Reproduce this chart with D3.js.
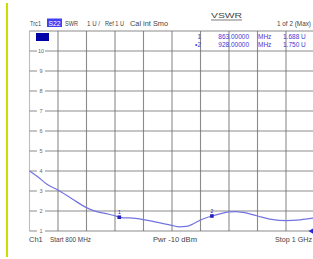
<!DOCTYPE html>
<html>
<head>
<meta charset="utf-8">
<script src="https://cdn.jsdelivr.net/npm/d3@7"></script>
<style>
  html, body { margin: 0; padding: 0; background: #ffffff; }
  svg { display: block; font-family: "Liberation Sans", Arial, sans-serif; }
</style>
</head>
<body>
<script>
// trace data: frequency (MHz) vs SWR
const freqs = [800, 806, 812, 820, 830, 840, 845, 850, 855, 860, 863, 866, 870, 876, 880, 890, 900, 905, 910, 915, 920, 928, 935, 940, 945, 950, 960, 970, 980, 990, 1000];
const swr   = [4.00, 3.70, 3.35, 3.05, 2.60, 2.17, 2.02, 1.92, 1.85, 1.76, 1.69, 1.66, 1.66, 1.62, 1.57, 1.43, 1.28, 1.21, 1.23, 1.36, 1.55, 1.75, 1.88, 1.96, 1.97, 1.93, 1.75, 1.58, 1.52, 1.56, 1.65];
const yTicks = [1, 2, 3, 4, 5, 6, 7, 8, 9, 10];
const markerIds = ["1", "2"];
const markerFreqs = [863, 928];
const markerVals = [1.688, 1.750];

const width = 313, height = 259;
const svg = d3.select("body").append("svg")
  .attr("width", width)
  .attr("height", height);

const x = d3.scaleLinear().domain([800, 1000]).range([29.5, 314.5]);
const y = d3.scaleLinear().domain([1, 11]).range([231, 31]);

// yellow side bar
svg.append("rect")
  .attr("x", 6).attr("y", 3)
  .attr("width", 2).attr("height", 254)
  .attr("fill", "#d0dc00");

// grid
const grid = svg.append("g").attr("stroke", "#6e6e6e").attr("stroke-width", 1.1);
d3.range(0, 11).forEach(i => {
  const gx = x(800 + i * 20);
  grid.append("line")
    .attr("x1", gx).attr("x2", gx)
    .attr("y1", y(11)).attr("y2", y(1))
    .attr("stroke-opacity", i === 0 ? 0.45 : 0.8);
});
d3.range(1, 12).forEach(v => {
  grid.append("line")
    .attr("x1", x(800)).attr("x2", x(1000))
    .attr("y1", y(v)).attr("y2", y(v))
    .attr("stroke-opacity", 0.8);
});

// y tick labels sitting on the grid lines
yTicks.forEach(v => {
  svg.append("rect")
    .attr("x", 37).attr("y", y(v) - 3)
    .attr("width", 8).attr("height", 6)
    .attr("fill", "#ffffff");
  svg.append("text")
    .attr("x", 41).attr("y", y(v) + 2)
    .attr("text-anchor", "middle")
    .attr("font-size", "5.5px")
    .attr("fill", "#666")
    .text(v);
});

// text helper, optional fitted width
function label(txt, tx, ty, opts = {}) {
  const t = svg.append("text")
    .attr("x", tx).attr("y", ty)
    .attr("font-size", opts.size || "7px")
    .attr("fill", opts.color || "#444")
    .attr("text-anchor", opts.anchor || "start")
    .text(txt);
  if (opts.len) t.attr("textLength", opts.len).attr("lengthAdjust", "spacingAndGlyphs");
  return t;
}

// header
label("Trc1", 30, 25.5, { len: 11 });
svg.append("rect")
  .attr("x", 47).attr("y", 18.5)
  .attr("width", 15).attr("height", 8.5)
  .attr("fill", "#4040f0");
label("S22", 48.5, 25.5, { color: "#ffffff", len: 12 });
label("SWR", 65, 25.5, { len: 13 });
label("1 U /", 87, 25.5, { len: 13 });
label("Ref 1 U", 105, 25.5, { len: 19 });
label("Cal int Smo", 130, 25.5, { len: 38 });
label("VSWR", 211, 18, { size: "8px", len: 31 });
svg.append("line")
  .attr("x1", 211).attr("x2", 242)
  .attr("y1", 20).attr("y2", 20)
  .attr("stroke", "#444").attr("stroke-width", 0.7);
label("1 of 2 (Max)", 277, 25.5, { len: 34 });

// marker info box
svg.append("rect")
  .attr("x", 36).attr("y", 33)
  .attr("width", 13).attr("height", 8)
  .attr("fill", "#0000aa");

const blue = "#3a3ad8";
markerIds.forEach((id, i) => {
  const ry = 39 + i * 7.5;
  label((i === 1 ? "\u2022" : "") + id, 201, ry, { size: "6.5px", color: blue, anchor: "end" });
  label(markerFreqs[i].toFixed(5), 249, ry, { size: "6.5px", color: blue, anchor: "end" });
  label("MHz", 258, ry, { size: "6.5px", color: blue });
  label(markerVals[i].toFixed(3) + "  U", 283, ry, { size: "6.5px", color: blue });
});

// trace
const line = d3.line()
  .x((d, i) => x(freqs[i]))
  .y(d => y(d))
  .curve(d3.curveMonotoneX);

svg.append("path")
  .datum(swr)
  .attr("fill", "none")
  .attr("stroke", "#7474e0")
  .attr("stroke-width", 1.2)
  .attr("d", line);

// markers
markerIds.forEach((id, i) => {
  const mx = x(markerFreqs[i]), my = y(markerVals[i]);
  svg.append("rect")
    .attr("x", mx - 1.8).attr("y", my - 1.8)
    .attr("width", 3.6).attr("height", 3.6)
    .attr("fill", "#2020c0");
  svg.append("text")
    .attr("x", mx).attr("y", my - 3.5)
    .attr("text-anchor", "middle")
    .attr("font-size", "5px")
    .attr("fill", "#2020c0")
    .text(id);
});

// reference level arrow on the right edge
svg.append("path")
  .attr("d", `M${x(1000) - 6},${y(1)} L${x(1000)},${y(1) - 3.5} L${x(1000)},${y(1) + 3.5} Z`)
  .attr("fill", "#2a2ad0");

// footer
label("Ch1", 29, 242, { size: "7.5px" });
label("Start  800 MHz", 50, 242, { size: "7.5px", len: 41 });
label("Pwr  -10 dBm", 153, 242, { size: "7.5px", len: 44 });
label("Stop  1 GHz", 275, 242, { size: "7.5px", len: 37 });
</script>
</body>
</html>
